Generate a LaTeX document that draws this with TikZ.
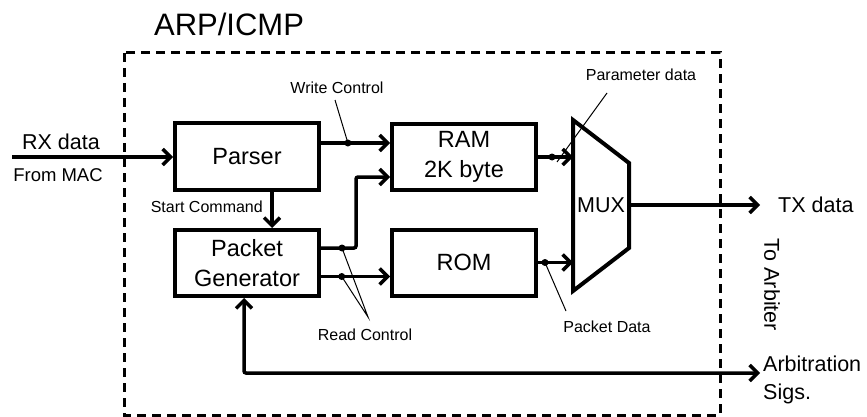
\documentclass[tikz,border=0pt]{standalone}
\usepackage{fontspec}
\setmainfont{Liberation Sans}
\usetikzlibrary{arrows.meta, positioning, calc}

\tikzset{
  >={Straight Barb[length=8pt,width=16pt,line width=3.5pt]},
  block/.style={draw, line width=4pt, minimum width=144pt, minimum height=66pt,
                inner sep=0pt, align=center, font=\fontsize{23.5}{30}\selectfont},
  sig/.style={line width=3.5pt, ->},
  leader/.style={line width=1pt},
  biglbl/.style={inner sep=0pt, font=\fontsize{21.5}{28}\selectfont},
  smalllbl/.style={inner sep=0pt, font=\fontsize{16}{19}\selectfont},
  tap/.style={fill, circle, inner sep=0pt, minimum size=7pt}
}

\begin{document}
\begin{tikzpicture}[x=1pt, y=-1pt]
    \useasboundingbox (0,0) rectangle (867,417);

    % module boundary
    \draw[line width=3pt, dash pattern=on 9pt off 6pt] (124,53) rectangle (720,415);
    \node[inner sep=0pt, font=\fontsize{31}{36}\selectfont] (title) at (229,24) {ARP/ICMP};

    % blocks
    \node[block] (parser) at (247,156.5) {Parser};
    \node[block] (pktgen) at (247,263) {Packet\\Generator};
    \node[block] (ram) at (464,157) {RAM\\2K byte};
    \node[block] (rom) at (464,262.5) {ROM};

    % multiplexer
    \coordinate (muxtl) at (573,120);
    \coordinate (muxtr) at (629,163);
    \coordinate (muxbr) at (629,248);
    \coordinate (muxbl) at (573,291);
    \draw[line width=4pt, line join=miter] (muxtl) -- (muxtr) -- (muxbr) -- (muxbl) -- cycle;
    \node[biglbl] (mux) at (601,205) {MUX};

    % receive side
    \coordinate (rxin) at (12,157);
    \draw[sig] (rxin) -- (rxin -| parser.west);
    \node[biglbl] (rxlbl) at (61,142) {RX data};
    \node[smalllbl, font=\fontsize{18.5}{22}\selectfont] (maclbl) at (58,175) {From MAC};

    \draw[sig] ([xshift=25pt]parser.south) -- ([xshift=25pt]pktgen.north);
    \node[smalllbl, anchor=east] (startlbl) at (263,207) {Start Command};

    % control lines
    \coordinate (wcs) at ([yshift=13.5pt]parser.east);
    \draw[sig] (wcs) -- coordinate[pos=0.39] (wcdot) (wcs -| ram.west);
    \node[tap] at (wcdot) {};
    \node[smalllbl] (wclbl) at (337,88) {Write Control};
    \draw[leader] (335,100) -- (wcdot);

    \coordinate (rcs1) at ([yshift=15pt]pktgen.east);
    \coordinate (ramin) at ([yshift=-20pt]ram.west);
    \draw[sig, rounded corners=2pt] (rcs1) -- coordinate[pos=0.6] (rcdot1) ++(35,0) |- (ramin);
    \coordinate (rcs2) at ([yshift=-13.5pt]pktgen.east);
    \draw[sig] (rcs2) -- coordinate[pos=0.3] (rcdot2) (rcs2 -| rom.west);
    \node[tap] at (rcdot1) {};
    \node[tap] at (rcdot2) {};
    \node[smalllbl] (rclbl) at (365,335) {Read Control};
    \draw[leader] (rcdot1) -- (368,317) -- (rcdot2);

    % data into the multiplexer
    \draw[sig] (ram.east) -- coordinate[pos=0.4] (pddot) (ram.east -| muxtl);
    \draw[sig] (rom.east) -- coordinate[pos=0.2] (pkdot) (rom.east -| muxtl);
    \node[tap] at (pddot) {};
    \node[tap] at (pkdot) {};
    \node[smalllbl] (pdlbl) at (641,75) {Parameter data};
    \draw[leader] (607,93) -- ([shift={(5,5)}]pddot);
    \node[smalllbl] (pklbl) at (607,327) {Packet Data};
    \draw[leader] (566,311) -- (pkdot);

    % outputs
    \coordinate (txout) at (760,205);
    \draw[sig] (muxtr |- txout) -- (txout);
    \node[biglbl, anchor=west] (txlbl) at (778,205) {TX data};
    \node[biglbl, rotate=-90] (arblbl) at (772,285) {To Arbiter};

    \coordinate (arbout) at (760,373);
    \draw[sig, <->, rounded corners=2pt] ([xshift=-3pt]pktgen.south) |- (arbout);
    \node[biglbl, anchor=west, align=left] (sigslbl) at (763,380) {Arbitration\\Sigs.};
\end{tikzpicture}
\end{document}
